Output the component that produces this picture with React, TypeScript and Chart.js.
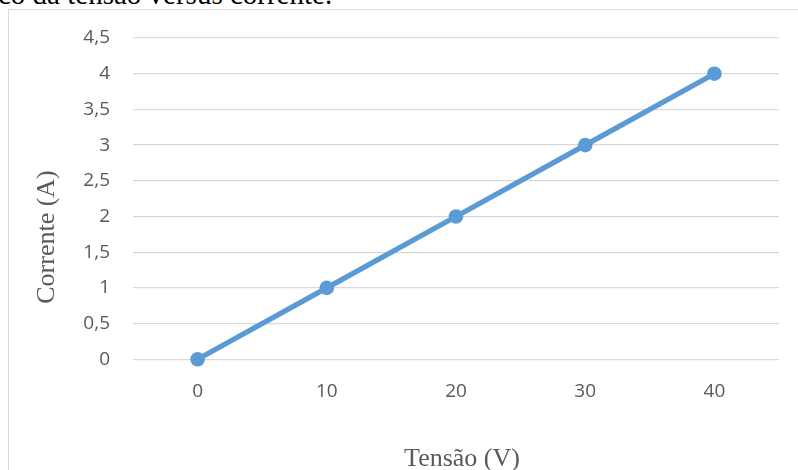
import React, { useEffect, useRef } from "react";
import { Chart, registerables } from "chart.js";

Chart.register(...registerables);

const categories: string[] = ["0", "10", "20", "30", "40"];
const currentValues: number[] = [0, 1, 2, 3, 4];
const yMin = 0;
const yMax = 4.5;
const yStep = 0.5;
const headingText = "co da tensão versus corrente.";
const xTitle = "Tensão (V)";
const yTitle = "Corrente (A)";

const W = 798;
const H = 470;

const titlePlugin = {
  id: "axisTitles",
  afterDraw(chart: any) {
    const { ctx, chartArea } = chart;
    ctx.save();
    ctx.font = '26px "Liberation Serif", "Times New Roman", serif';
    ctx.fillStyle = "#595959";
    ctx.textAlign = "center";
    ctx.textBaseline = "alphabetic";
    ctx.fillText(xTitle, (chartArea.left + chartArea.right) / 2 + 6, 466);
    ctx.translate(54, 237);
    ctx.rotate(-Math.PI / 2);
    ctx.fillText(yTitle, 0, 0);
    ctx.restore();
  },
};

export default function App() {
  const ref = useRef<HTMLCanvasElement | null>(null);
  useEffect(() => {
    if (!ref.current) return;
    const chart = new Chart(ref.current, {
      type: "line",
      data: {
        labels: categories,
        datasets: [
          {
            data: currentValues,
            borderColor: "#5B9BD5",
            backgroundColor: "#5B9BD5",
            borderWidth: 5.2,
            pointRadius: 7.3,
            pointBackgroundColor: "#5B9BD5",
            pointBorderColor: "#5B9BD5",
            pointBorderWidth: 0,
            tension: 0,
            fill: false,
            clip: false,
          } as any,
        ],
      },
      options: {
        responsive: false,
        animation: false,
        devicePixelRatio: 1,
        layout: { padding: { left: 0, right: 19, top: 38, bottom: 0 } },
        plugins: {
          legend: { display: false },
          tooltip: { enabled: false },
          title: { display: false },
        },
        scales: {
          x: {
            type: "category",
            offset: true,
            grid: { display: false, drawTicks: false },
            border: { display: false },
            ticks: {
              color: "#595959",
              font: { family: '"Open Sans", sans-serif', size: 19 },
              padding: 21,
              maxRotation: 0,
            },
            afterFit(scale: any) {
              scale.height = 110.7;
            },
          },
          y: {
            min: yMin,
            max: yMax,
            grid: { color: "#d9d9d9", lineWidth: 1.3, drawTicks: false },
            border: { display: false },
            ticks: {
              stepSize: yStep,
              color: "#595959",
              font: { family: '"Open Sans", sans-serif', size: 19 },
              padding: 23,
              callback: (v: any) => String(v).replace(".", ","),
            },
            afterFit(scale: any) {
              scale.width = 133;
            },
          },
        },
      },
      plugins: [titlePlugin],
    });
    return () => chart.destroy();
  }, []);

  return (
    <div
      style={{
        position: "fixed",
        left: 0,
        top: 0,
        width: W,
        height: H,
        overflow: "hidden",
        background: "#fff",
      }}
    >
      <div
        style={{
          position: "absolute",
          left: -2,
          top: -20,
          fontFamily: '"Liberation Serif", "Times New Roman", serif',
          fontSize: 29,
          lineHeight: "29px",
          color: "#000",
          whiteSpace: "nowrap",
        }}
      >
        {headingText}
      </div>
      <div
        style={{
          position: "absolute",
          left: 8,
          top: 9,
          width: 900,
          height: 600,
          border: "1px solid #d9d9d9",
          boxSizing: "border-box",
        }}
      />
      <canvas
        ref={ref}
        width={W}
        height={H}
        style={{ position: "absolute", left: 0, top: 0, width: W, height: H }}
      />
    </div>
  );
}
